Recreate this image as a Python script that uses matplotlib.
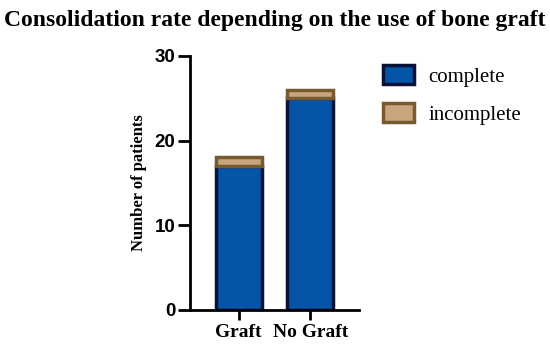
import matplotlib.pyplot as plt
from matplotlib.patches import Patch

groups = ['Graft', 'No Graft']
complete = [17, 25]
incomplete = [1, 1]

fig = plt.figure(figsize=(5.5, 3.49), dpi=100)
ax = fig.add_axes([0.345, 0.112, 0.307, 0.728])

x = range(len(groups))
ax.bar(x, complete, width=0.64, color='#0455a8', edgecolor='#0a1238', linewidth=2.5)
ax.bar(x, incomplete, bottom=complete, width=0.64, color='#c9a57c', edgecolor='#785a30', linewidth=2.5)

ax.set_xlim(-0.68, 1.67)
ax.set_ylim(0, 30)
ax.set_yticks([0, 10, 20, 30])
ax.set_xticks(list(x))
ax.set_xticklabels(groups, fontfamily='Liberation Serif', fontweight='bold', fontsize=14)
for lab in ax.get_yticklabels():
    lab.set_fontfamily('Liberation Sans')
    lab.set_fontweight('bold')
    lab.set_fontsize(13.5)
ax.tick_params(axis='y', width=2, length=8.5, pad=2)
ax.tick_params(axis='x', width=2, length=7, pad=3)
for s in ['top', 'right']:
    ax.spines[s].set_visible(False)
for s in ['left', 'bottom']:
    ax.spines[s].set_linewidth(2)

ax.set_ylabel('Number of patients', fontfamily='Liberation Serif', fontweight='bold', fontsize=12, labelpad=5)
fig.suptitle('Consolidation rate depending on the use of bone graft', fontfamily='Liberation Serif',
             fontweight='bold', fontsize=17, y=0.972)

handles = [Patch(facecolor='#0455a8', edgecolor='#0a1238', linewidth=2.5, label='complete'),
           Patch(facecolor='#c9a57c', edgecolor='#785a30', linewidth=2.5, label='incomplete')]
fig.legend(handles=handles, loc='upper left', bbox_to_anchor=(0.696, 0.813), frameon=False,
           borderpad=0, borderaxespad=0,
           prop={'family': 'Liberation Serif', 'size': 15}, handlelength=1.5, handleheight=1.0,
           labelspacing=0.8, handletextpad=0.7)

fig.savefig('out.png', dpi=100)
